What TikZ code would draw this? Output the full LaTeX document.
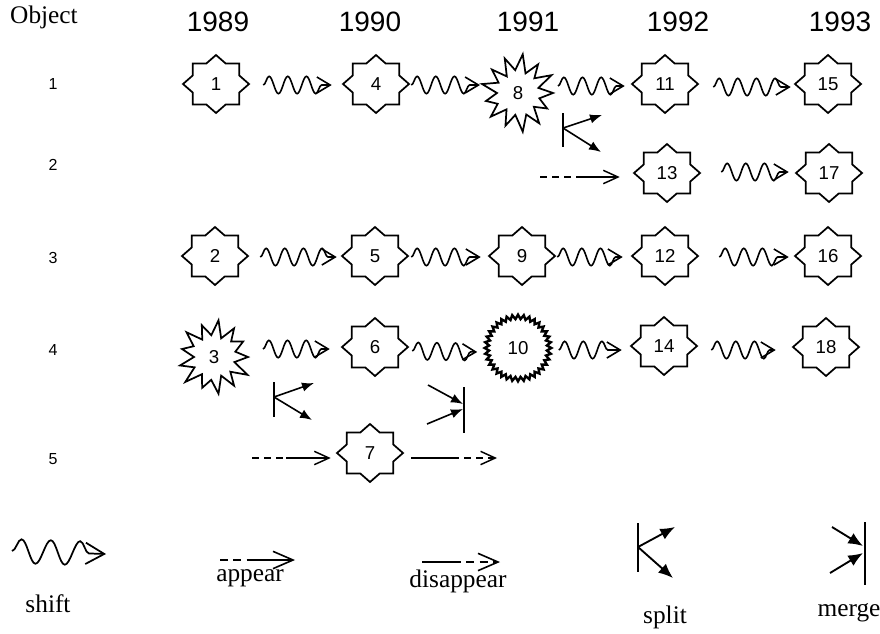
\documentclass[tikz,border=0pt]{standalone}
\usepackage{fontspec}
\setmainfont{Liberation Serif}
\setsansfont{Liberation Sans}
\usetikzlibrary{shapes.geometric,decorations.pathmorphing,arrows.meta,calc}
\newcommand{\drawobj}[1]{%
  \draw[starline] ($(#1)+(33,0)$) -- ($(#1)+(23.3,8.5)$) -- ($(#1)+(23.3,20.5)$)
    -- ($(#1)+(9.7,20.5)$) -- ($(#1)+(0,29)$) -- ($(#1)+(-9.7,20.5)$)
    -- ($(#1)+(-23.3,20.5)$) -- ($(#1)+(-23.3,8.5)$) -- ($(#1)+(-33,0)$)
    -- ($(#1)+(-23.3,-8.5)$) -- ($(#1)+(-23.3,-20.5)$) -- ($(#1)+(-9.7,-20.5)$)
    -- ($(#1)+(0,-29)$) -- ($(#1)+(9.7,-20.5)$) -- ($(#1)+(23.3,-20.5)$)
    -- ($(#1)+(23.3,-8.5)$) -- cycle;}
\begin{document}
\begin{tikzpicture}[x=0.75pt,y=-0.75pt,
  every node/.style={inner sep=0pt},
  numfont/.style={font=\sffamily\fontsize{14}{16}\selectfont},
  obj/.style={rectangle,minimum width=49.5pt,minimum height=43.5pt,numfont},
  starline/.style={line width=1.3pt,line join=miter},
  blob/.style={circle,minimum size=44pt,numfont},
  burstline/.style={line width=1.3pt,line join=miter},
  gear/.style={star,star points=36,star point ratio=1.15,minimum size=50pt,draw,line width=1.8pt,numfont},
  shiftarrow/.style={line width=1.2pt,decorate,
    decoration={snake,segment length=14pt,amplitude=6.5pt,post length=4pt},
    -{Straight Barb[length=10pt,width=12pt]}},
  bigshift/.style={line width=1.3pt,decorate,
    decoration={snake,segment length=22pt,amplitude=9pt,post length=6pt},
    -{Straight Barb[length=14pt,width=16pt]}},
  plain/.style={line width=1.1pt},
  dsh/.style={line width=1.1pt,dash pattern=on 5pt off 4pt},
  openhead/.style={-{Straight Barb[length=11pt,width=10pt]}},
  bighead/.style={-{Straight Barb[length=15pt,width=13pt]}},
  splitarr/.style={line width=1.2pt,-{Latex[length=9pt,width=7pt]}},
  bigsplit/.style={line width=1.4pt,-{Latex[length=11pt,width=9pt]}},
  bar/.style={line width=1.3pt},
  yr/.style={font=\sffamily\fontsize{21}{25}\selectfont},
  rowlab/.style={font=\sffamily\fontsize{12}{14}\selectfont},
  lbl/.style={font=\fontsize{19}{22}\selectfont}
]
\useasboundingbox (0,0) rectangle (880,633);

% header
\node[lbl] (hobj) at (44,17) {Object};
\node[yr] (y89) at (218,22) {1989};
\node[yr] (y90) at (370,22) {1990};
\node[yr] (y91) at (528,22) {1991};
\node[yr] (y92) at (678,22) {1992};
\node[yr] (y93) at (840,22) {1993};

% row labels
\node[rowlab] (r1) at (53,84) {1};
\node[rowlab] (r2) at (53,165) {2};
\node[rowlab] (r3) at (53,258) {3};
\node[rowlab] (r4) at (53,350) {4};
\node[rowlab] (r5) at (53,459) {5};

% objects
\node[obj] (n1) at (216,84) {1};   \drawobj{n1}
\node[obj] (n4) at (376,84) {4};   \drawobj{n4}
\node[blob] (n8) at (518,93) {8};
\draw[burstline] ($(n8)+(0:35)$)
  \foreach \a/\r in {14/22,28/33,41/21,55/37,69/23,83/39,97/22,111/35,125/20,139/36,152/23,166/33,180/21,194/37,208/22,222/35,236/20,249/37,263/23,277/39,291/21,305/35,318/22,332/38,346/21}
  { -- ($(n8)+(\a:\r)$) } -- cycle;
\node[obj] (n11) at (665,84) {11}; \drawobj{n11}
\node[obj] (n15) at (828,84) {15}; \drawobj{n15}

\node[obj] (n13) at (667,173) {13}; \drawobj{n13}
\node[obj] (n17) at (829,173) {17}; \drawobj{n17}

\node[obj] (n2) at (215,256) {2};   \drawobj{n2}
\node[obj] (n5) at (375,256) {5};   \drawobj{n5}
\node[obj] (n9) at (522,256) {9};   \drawobj{n9}
\node[obj] (n12) at (665,256) {12}; \drawobj{n12}
\node[obj] (n16) at (828,256) {16}; \drawobj{n16}

\node[blob] (n3) at (214,357) {3};
\draw[burstline] ($(n3)+(0:34)$)
  \foreach \a/\r in {14/21,28/38,42/22,55/35,69/20,83/37,97/23,111/33,125/21,139/38,152/22,166/35,180/20,194/33,208/23,222/37,236/21,249/34,263/22,277/37,291/20,305/35,318/23,332/33,346/22}
  { -- ($(n3)+(\a:\r)$) } -- cycle;
\node[obj] (n6) at (375,347) {6};   \drawobj{n6}
\node[gear] (n10) at (518,348) {10};
\node[obj] (n14) at (664,346) {14}; \drawobj{n14}
\node[obj] (n18) at (826,347) {18}; \drawobj{n18}

\node[obj] (n7) at (370,453) {7};   \drawobj{n7}

% shift arrows
\draw[shiftarrow] ($(n1.east)+(14,1)$) -- ($(n4.west)+(-11,1)$);
\draw[shiftarrow] ($(n4.east)+(2,1)$) -- ($(n8)+(-38,-8)$);
\draw[shiftarrow] ($(n8)+(40,-7)$) -- ($(n11.west)+(-7,2)$);
\draw[shiftarrow] ($(n11.east)+(15,3)$) -- ($(n15.west)+(-4,3)$);
\draw[shiftarrow] ($(n13.east)+(21,-1)$) -- ($(n17.west)+(-7,-1)$);
\draw[shiftarrow] ($(n2.east)+(12,1)$) -- ($(n5.west)+(-5,1)$);
\draw[shiftarrow] ($(n5.east)+(3,1)$) -- ($(n9.west)+(-8,1)$);
\draw[shiftarrow] ($(n9.east)+(2,1)$) -- ($(n12.west)+(-9,1)$);
\draw[shiftarrow] ($(n12.east)+(21,1)$) -- ($(n16.west)+(-6,1)$);
\draw[shiftarrow] ($(n3)+(49,-8)$) -- ($(n6.west)+(-12,2)$);
\draw[shiftarrow] ($(n6.east)+(4,4)$) -- ($(n10.west)+(-5,4)$);
\draw[shiftarrow] ($(n10.east)+(5,2)$) -- ($(n14.west)+(-9,4)$);
\draw[shiftarrow] ($(n14.east)+(14,4)$) -- ($(n18.west)+(-17,3)$);

% split after 8
\coordinate (sp1) at (563,128);
\coordinate (sp1a) at (602,115);
\coordinate (sp1b) at (601,152);
\draw[bar] (563,113) -- (563,147);
\draw[splitarr] (sp1) -- (sp1a);
\draw[splitarr] (sp1) -- (sp1b);

% appear of 13
\coordinate (ap2s) at (540,177);
\coordinate (ap2m) at (577,177);
\draw[dsh] (ap2s) -- (ap2m);
\draw[plain,openhead] (ap2m) -- ($(n13.west)+(-14,4)$);

% split after 3
\coordinate (sp2) at (274,397);
\coordinate (sp2a) at (314,383);
\coordinate (sp2b) at (312,420);
\draw[bar] (274,382) -- (274,417);
\draw[splitarr] (sp2) -- (sp2a);
\draw[splitarr] (sp2) -- (sp2b);

% merge into 10
\coordinate (mg1a) at (428,385);
\coordinate (mg1b) at (427,424);
\coordinate (mg1c) at (463,404);
\coordinate (mg1d) at (463,409);
\draw[bar] (464,387) -- (464,433);
\draw[splitarr] (mg1a) -- (mg1c);
\draw[splitarr] (mg1b) -- (mg1d);

% appear / disappear of 7
\coordinate (ap5s) at (252,458);
\coordinate (ap5m) at (286,458);
\draw[dsh] (ap5s) -- (ap5m);
\draw[plain,openhead] (ap5m) -- ($(n7.west)+(-6,5)$);
\coordinate (dp5m) at (452,458);
\coordinate (dp5e) at (497,458);
\draw[plain] ($(n7.east)+(8,5)$) -- (dp5m);
\draw[dsh,openhead] (dp5m) -- (dp5e);

% legend
\coordinate (ls1) at (12,551);
\coordinate (ls2) at (106,554);
\draw[bigshift] (ls1) -- (ls2);
\node[lbl] (tshift) at (48,604) {shift};

\coordinate (la1) at (220,560);
\coordinate (la2) at (251,560);
\coordinate (la3) at (295,560);
\draw[dsh,line width=1.2pt,dash pattern=on 6pt off 4pt] (la1) -- (la2);
\draw[plain,line width=1.2pt,bighead] (la2) -- (la3);
\node[lbl] (tappear) at (250,578) {appear};

\coordinate (ld1) at (422,562);
\coordinate (ld2) at (453,562);
\coordinate (ld3) at (500,562);
\draw[plain,line width=1.2pt] (ld1) -- (ld2);
\draw[dsh,line width=1.2pt,dash pattern=on 6pt off 4pt,bighead] (ld2) -- (ld3);
\node[lbl] (tdisappear) at (458,581) {disappear};

\coordinate (lsp) at (638,547);
\coordinate (lspa) at (675,527);
\coordinate (lspb) at (673,578);
\draw[bar,line width=1.5pt] (638,523) -- (638,572);
\draw[bigsplit] (lsp) -- (lspa);
\draw[bigsplit] (lsp) -- (lspb);
\node[lbl] (tsplit) at (665,617) {split};

\coordinate (lmga) at (832,527);
\coordinate (lmgb) at (830,573);
\coordinate (lmgc) at (863,546);
\coordinate (lmgd) at (863,553);
\draw[bar,line width=1.5pt] (865,522) -- (865,585);
\draw[bigsplit] (lmga) -- (lmgc);
\draw[bigsplit] (lmgb) -- (lmgd);
\node[lbl] (tmerge) at (849,613) {merge};
\end{tikzpicture}
\end{document}
